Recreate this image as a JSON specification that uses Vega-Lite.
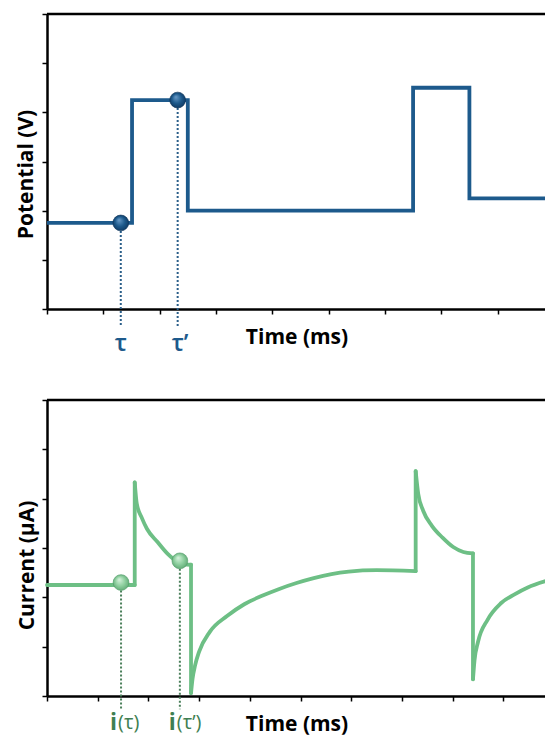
{
  "$schema": "https://vega.github.io/schema/vega-lite/v6.json",
  "padding": {"left": 15, "top": 12, "right": 0, "bottom": 10},
  "background": "white",
  "spacing": 91,
  "bounds": "flush",
  "config": {
    "view": {"stroke": null},
    "axis": {
      "domainColor": "black", "domainWidth": 2.5, "tickColor": "black", "tickWidth": 1.5, "tickSize": 5,
      "labels": false, "grid": false, "titleFont": "Open Sans", "titleFontWeight": "bold", "titleFontSize": 21, "titleColor": "black"
    }
  },
  "vconcat": [
    {
      "width": 499,
      "height": 295,
      "layer": [
        {
          "data": {"values": [{}]},
          "mark": {"type": "rule", "color": "black", "strokeWidth": 2.5},
          "encoding": {"y": {"datum": 6, "type": "quantitative", "scale": {"domain": [0, 6], "nice": false}}}
        },
        {
          "data": {"values": [
            {"t": 0, "v": 1.75}, {"t": 1.51, "v": 4.25}, {"t": 2.5, "v": 2.0},
            {"t": 6.5, "v": 4.5}, {"t": 7.5, "v": 2.25}, {"t": 8.86, "v": 2.25}
          ]},
          "mark": {"type": "line", "interpolate": "step-after", "color": "#1d5a8c", "strokeWidth": 3.8},
          "encoding": {
            "x": {"field": "t", "type": "quantitative", "scale": {"domain": [0, 8.86], "nice": false, "zero": false},
              "axis": {"values": [0, 1, 2, 3, 4, 5, 6, 7, 8], "title": "Time (ms)", "titleBaseline": "alphabetic", "titleY": 34}},
            "y": {"field": "v", "type": "quantitative", "scale": {"domain": [0, 6], "nice": false},
              "axis": {"values": [0, 1, 2, 3, 4, 5, 6], "title": "Potential (V)", "titleAngle": -90, "titleBaseline": "alphabetic", "titleAlign": "center", "titleX": -14.5, "titleY": 160}}
          }
        },
        {
          "data": {"values": [{"t": 1.31, "v": 1.75, "label": "τ"}, {"t": 2.32, "v": 4.25, "label": "τ’"}]},
          "layer": [
            {
              "mark": {"type": "rule", "color": "#2b5f8a", "strokeWidth": 2, "strokeDash": [2, 2]},
              "encoding": {
                "x": {"field": "t", "type": "quantitative"},
                "y": {"field": "v", "type": "quantitative"},
                "y2": {"datum": -0.35}
              }
            },
            {
              "mark": {"type": "point", "filled": true, "size": 250, "opacity": 1, "stroke": "#0b3358", "strokeWidth": 0.6,
                "fill": {"gradient": "radial", "x1": 0.38, "y1": 0.3, "r1": 0, "x2": 0.5, "y2": 0.5, "r2": 0.55,
                  "stops": [{"offset": 0, "color": "#6a9bc8"}, {"offset": 0.55, "color": "#1d5a8c"}, {"offset": 1, "color": "#0d3760"}]}},
              "encoding": {
                "x": {"field": "t", "type": "quantitative"},
                "y": {"field": "v", "type": "quantitative"}
              }
            },
            {
              "mark": {"type": "text", "color": "#1d5a8c", "font": "Open Sans", "fontWeight": 600, "fontSize": 24, "align": "left", "baseline": "middle", "dx": -6},
              "encoding": {
                "x": {"field": "t", "type": "quantitative"},
                "y": {"datum": -0.72},
                "text": {"field": "label"}
              }
            }
          ]
        }
      ]
    },
    {
      "width": 499,
      "height": 296,
      "layer": [
        {
          "data": {"values": [{}]},
          "mark": {"type": "rule", "color": "black", "strokeWidth": 2.5},
          "encoding": {"y": {"datum": 6, "type": "quantitative", "scale": {"domain": [0, 6], "nice": false}}}
        },
        {
          "data": {"values": [
            {"seg": 1, "i": 1, "t": 0, "c": 2.25}, {"seg": 1, "i": 2, "t": 1.73, "c": 2.25},
            {"seg": 2, "i": 3, "t": 1.73, "c": 2.25}, {"seg": 2, "i": 4, "t": 1.73, "c": 4.33},
            {"seg": 3, "i": 5, "t": 1.73, "c": 4.33}, {"seg": 3, "i": 6, "t": 1.77, "c": 3.9}, {"seg": 3, "i": 7, "t": 1.87, "c": 3.61},
            {"seg": 3, "i": 8, "t": 1.97, "c": 3.39}, {"seg": 3, "i": 9, "t": 2.18, "c": 3.12}, {"seg": 3, "i": 10, "t": 2.38, "c": 2.88},
            {"seg": 3, "i": 11, "t": 2.59, "c": 2.71}, {"seg": 3, "i": 12, "t": 2.7, "c": 2.67}, {"seg": 3, "i": 13, "t": 2.84, "c": 2.66},
            {"seg": 4, "i": 14, "t": 2.84, "c": 2.66}, {"seg": 4, "i": 15, "t": 2.84, "c": 0.06},
            {"seg": 5, "i": 16, "t": 2.84, "c": 0.06}, {"seg": 5, "i": 17, "t": 2.87, "c": 0.35}, {"seg": 5, "i": 18, "t": 2.92, "c": 0.62},
            {"seg": 5, "i": 19, "t": 3.0, "c": 0.9}, {"seg": 5, "i": 20, "t": 3.21, "c": 1.3}, {"seg": 5, "i": 21, "t": 3.55, "c": 1.62},
            {"seg": 5, "i": 22, "t": 3.89, "c": 1.86}, {"seg": 5, "i": 23, "t": 4.24, "c": 2.03}, {"seg": 5, "i": 24, "t": 4.58, "c": 2.17},
            {"seg": 5, "i": 25, "t": 4.92, "c": 2.29}, {"seg": 5, "i": 26, "t": 5.26, "c": 2.39}, {"seg": 5, "i": 27, "t": 5.61, "c": 2.47},
            {"seg": 5, "i": 28, "t": 5.95, "c": 2.52}, {"seg": 5, "i": 29, "t": 6.5, "c": 2.55}, {"seg": 5, "i": 30, "t": 7.27, "c": 2.53},
            {"seg": 6, "i": 31, "t": 7.27, "c": 2.53}, {"seg": 6, "i": 32, "t": 7.27, "c": 4.56},
            {"seg": 7, "i": 33, "t": 7.27, "c": 4.56}, {"seg": 7, "i": 34, "t": 7.32, "c": 4.1}, {"seg": 7, "i": 35, "t": 7.42, "c": 3.75},
            {"seg": 7, "i": 36, "t": 7.59, "c": 3.45}, {"seg": 7, "i": 37, "t": 7.8, "c": 3.21}, {"seg": 7, "i": 38, "t": 8.01, "c": 3.02},
            {"seg": 7, "i": 39, "t": 8.21, "c": 2.92}, {"seg": 7, "i": 40, "t": 8.4, "c": 2.89},
            {"seg": 8, "i": 41, "t": 8.4, "c": 2.89}, {"seg": 8, "i": 42, "t": 8.4, "c": 0.34},
            {"seg": 9, "i": 43, "t": 8.4, "c": 0.34}, {"seg": 9, "i": 44, "t": 8.43, "c": 0.72}, {"seg": 9, "i": 45, "t": 8.5, "c": 1.1},
            {"seg": 9, "i": 46, "t": 8.69, "c": 1.55}, {"seg": 9, "i": 47, "t": 8.95, "c": 1.88}, {"seg": 9, "i": 48, "t": 9.22, "c": 2.06},
            {"seg": 9, "i": 49, "t": 9.48, "c": 2.2}, {"seg": 9, "i": 50, "t": 9.84, "c": 2.33}
          ]},
          "mark": {"type": "line", "interpolate": "monotone", "color": "#6dbf85", "strokeWidth": 3.8, "strokeCap": "round", "strokeJoin": "round"},
          "encoding": {
            "x": {"field": "t", "type": "quantitative", "scale": {"domain": [0, 9.84], "nice": false, "zero": false},
              "axis": {"values": [0, 1, 2, 3, 4, 5, 6, 7, 8, 9], "title": "Time (ms)", "titleBaseline": "alphabetic", "titleY": 34}},
            "y": {"field": "c", "type": "quantitative", "scale": {"domain": [0, 6], "nice": false},
              "axis": {"values": [0, 1, 2, 3, 4, 5, 6], "title": "Current (μA)", "titleAngle": -90, "titleBaseline": "alphabetic", "titleAlign": "center", "titleX": -13.5, "titleY": 165}},
            "detail": {"field": "seg", "type": "nominal"},
            "order": {"field": "i", "type": "quantitative"}
          }
        },
        {
          "data": {"values": [{"t": 1.46, "c": 2.3, "head": "i", "tail": "(τ)"}, {"t": 2.62, "c": 2.74, "head": "i", "tail": "(τ’)"}]},
          "layer": [
            {
              "mark": {"type": "rule", "color": "#4a7f5a", "strokeWidth": 2, "strokeDash": [2, 2]},
              "encoding": {
                "x": {"field": "t", "type": "quantitative"},
                "y": {"field": "c", "type": "quantitative"},
                "y2": {"datum": -0.27}
              }
            },
            {
              "mark": {"type": "point", "filled": true, "size": 250, "opacity": 1, "stroke": "#4f9a66", "strokeWidth": 0.6,
                "fill": {"gradient": "radial", "x1": 0.38, "y1": 0.3, "r1": 0, "x2": 0.5, "y2": 0.5, "r2": 0.55,
                  "stops": [{"offset": 0, "color": "#d8f2de"}, {"offset": 0.55, "color": "#8fd0a0"}, {"offset": 1, "color": "#5ea874"}]}},
              "encoding": {
                "x": {"field": "t", "type": "quantitative"},
                "y": {"field": "c", "type": "quantitative"}
              }
            },
            {
              "mark": {"type": "text", "color": "#3f7f52", "font": "Open Sans", "fontWeight": "bold", "fontSize": 23, "align": "left", "baseline": "middle", "dx": -11},
              "encoding": {
                "x": {"field": "t", "type": "quantitative"},
                "y": {"datum": -0.55},
                "text": {"field": "head"}
              }
            },
            {
              "mark": {"type": "text", "color": "#3f7f52", "font": "Open Sans", "fontWeight": "normal", "fontSize": 20, "align": "left", "baseline": "middle", "dx": -3},
              "encoding": {
                "x": {"field": "t", "type": "quantitative"},
                "y": {"datum": -0.55},
                "text": {"field": "tail"}
              }
            }
          ]
        }
      ]
    }
  ]
}
